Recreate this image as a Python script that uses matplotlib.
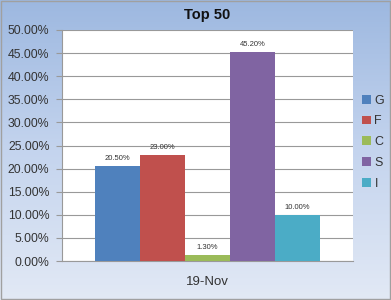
import matplotlib.pyplot as plt
import numpy as np
from matplotlib.colors import LinearSegmentedColormap
from matplotlib.patches import Rectangle

plt.rcParams['font.family'] = ['Liberation Sans', 'DejaVu Sans']

categories = ['19-Nov']
series = ['G', 'F', 'C', 'S', 'I']
values = [20.5, 23.0, 1.3, 45.2, 10.0]
colors = ['#4f81bd', '#c0504d', '#9bbb59', '#8064a2', '#4bacc6']
yticks = [0, 5, 10, 15, 20, 25, 30, 35, 40, 45, 50]

W, H = 391, 300
fig = plt.figure(figsize=(W / 100, H / 100), dpi=100)

# gradient background
bg = fig.add_axes([0, 0, 1, 1])
grad = np.linspace(0, 1, 256).reshape(-1, 1)
cmap = LinearSegmentedColormap.from_list('bg', ['#9db8e0', '#c4d4ee', '#e2e9f5'])
bg.imshow(grad, aspect='auto', cmap=cmap, extent=[0, 1, 0, 1], origin='upper')
bg.add_patch(Rectangle((0.002, 0.003), 0.995, 0.993, fill=False,
                       edgecolor='#a0a0a0', linewidth=1, transform=bg.transAxes))
bg.set_xlim(0, 1)
bg.set_ylim(0, 1)
bg.axis('off')

ax = fig.add_axes([62 / W, (H - 261) / H, 291 / W, 231 / H])
ax.set_facecolor('white')

bar_w = 45 / 291
n = len(series)
for i, (name, v, c) in enumerate(zip(series, values, colors)):
    x = (i - (n - 1) / 2) * bar_w
    ax.bar(x, v, width=bar_w, color=c, label=name, zorder=3)
    ax.text(x, v + 0.9, f'{v:.2f}%', ha='center', va='bottom', fontsize=5.5, color='#333333', zorder=4)

ax.set_xlim(-0.5, 0.5)
ax.set_ylim(0, 50)
ax.set_yticks(yticks)
ax.set_yticklabels([f'{t:.2f}%' for t in yticks], fontsize=8.8, color='#333333')
ax.yaxis.grid(True, color='#999999', linewidth=0.8, zorder=0)
ax.set_xticks([0])
ax.set_xticklabels(categories, fontsize=9.5, color='#333333')
ax.tick_params(axis='x', length=0, pad=11)
ax.tick_params(axis='y', length=4, color='#999999', pad=5)
for s in ['top', 'right']:
    ax.spines[s].set_visible(False)
ax.spines['left'].set_color('#999999')
ax.spines['bottom'].set_color('#999999')

fig.text(207.5 / W, 1 - 15 / H, 'Top 50', ha='center', va='center', fontsize=10.5, fontweight='bold', color='#111111')

handles, labels = ax.get_legend_handles_labels()
fig.legend(handles, labels, loc='center', bbox_to_anchor=(373 / W, 1 - 142 / H),
           frameon=False, fontsize=9, handlelength=0.7, handleheight=0.7,
           handletextpad=0.3, labelspacing=0.7, borderpad=0, labelcolor='#333333')

fig.savefig('out.png', dpi=100)
